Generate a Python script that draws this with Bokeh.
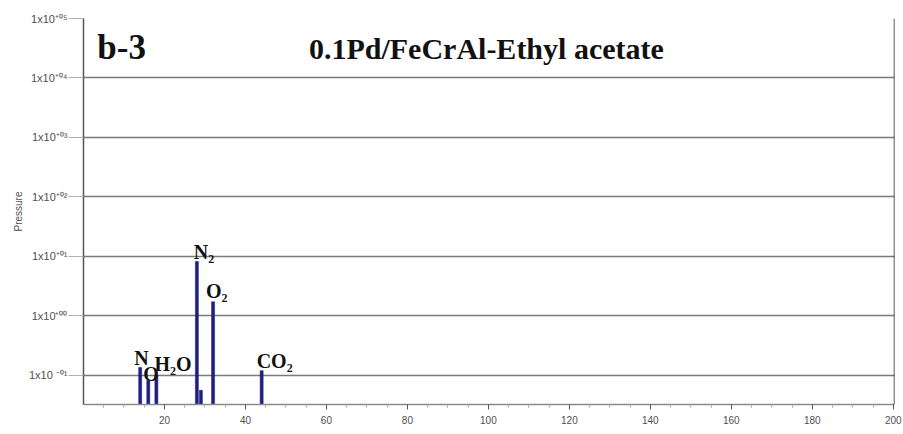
import math
from bokeh.plotting import figure
from bokeh.models import FixedTicker, CustomJSTickFormatter, Label, ColumnDataSource, Range1d
from bokeh.core.properties import value
from bokeh.embed import file_html
from bokeh.resources import INLINE

# ---- data ----
masses = [14, 16, 18, 28, 29, 32, 44]
pressures = [0.136, 0.082, 0.10, 8.2, 0.056, 1.72, 0.12]

label_masses = [14, 16, 18, 28, 32, 44]
label_pressures = [0.136, 0.082, 0.10, 8.2, 1.72, 0.12]
label_texts = ["N", "O", "H\u2082O", "N\u2082", "O\u2082", "CO\u2082"]

x_major_ticks = [20, 40, 60, 80, 100, 120, 140, 160, 180, 200]
x_minor_ticks = [v for v in range(5, 200, 5) if v % 20 != 0]
y_ticks = [1e-1, 1e0, 1e1, 1e2, 1e3, 1e4, 1e5]

title_text = "0.1Pd/FeCrAl-Ethyl acetate"
panel_text = "b-3"
top_text = "Easy View Log(Mass scan)"
x_axis_text = "Mass / Charge (amu)"
y_axis_text = "Pressure"

# ---- style ----
label_dx = [-6, -5, -2, -3, -7, -5]
label_dy = [-9, -6, -11, -10, -11, -10]
bar_color = "#1f1f7f"

y_lo = 10 ** -1.49
y_hi = 1e5

p = figure(width=903, height=434, output_backend="svg", toolbar_location=None,
           x_range=Range1d(0, 200.3), y_range=Range1d(y_lo, y_hi), y_axis_type="log",
           min_border_left=83, min_border_right=9, min_border_top=18, min_border_bottom=30)
p.background_fill_color = "white"
p.border_fill_color = "white"
p.outline_line_color = None

# grid
p.xgrid.visible = False
p.ygrid.ticker = FixedTicker(ticks=y_ticks)
p.ygrid.grid_line_color = "#7a7a7a"
p.ygrid.grid_line_width = 1.5

# axes
xa = p.xaxis[0]
xa.ticker = FixedTicker(ticks=x_major_ticks, minor_ticks=x_minor_ticks)
xa.axis_line_color = "#8a8a8a"
xa.axis_line_width = 1.5
xa.major_tick_line_color = "#555555"
xa.major_tick_out = 5
xa.major_tick_in = 0
xa.minor_tick_line_color = "#aaaaaa"
xa.minor_tick_out = 3
xa.minor_tick_in = 0
xa.major_label_text_font = "Liberation Sans"
xa.major_label_text_font_size = "10px"
xa.major_label_text_color = "#505050"
xa.major_label_standoff = 6

ya = p.yaxis[0]
ya.ticker = FixedTicker(ticks=y_ticks)
ya.formatter = CustomJSTickFormatter(code="""
const e = Math.round(Math.log10(tick));
const s = (e < 0 ? '-' : '+') + String(Math.abs(e)).padStart(2, '0');
const m = {'0':'\u2070','1':'\u00b9','2':'\u00b2','3':'\u00b3','4':'\u2074','5':'\u2075',
           '6':'\u2076','7':'\u2077','8':'\u2078','9':'\u2079','+':'\u207a','-':'\u207b'};
return '1x10' + (e < 0 ? ' ' : '') + s.split('').map(c => m[c]).join('');
""")
ya.axis_line_color = "#555555"
ya.axis_line_width = 1.5
ya.major_tick_line_color = "#b0b0b0"
ya.major_tick_out = 15
ya.major_tick_in = 0
ya.minor_tick_line_color = None
ya.major_label_text_font = "Liberation Sans"
ya.major_label_text_font_size = "11px"
ya.major_label_text_color = "#505050"
ya.major_label_standoff = 1
ya.axis_label = y_axis_text
ya.axis_label_text_font = "Liberation Sans"
ya.axis_label_text_font_size = "10px"
ya.axis_label_text_font_style = "normal"
ya.axis_label_text_color = "#505050"
ya.axis_label_standoff = 2

# bars
src = ColumnDataSource(dict(x=masses, top=pressures))
p.vbar(x="x", top="top", bottom=1e-3, width=0.75, source=src,
       fill_color=bar_color, line_color=bar_color, line_width=0.5)

# right border line
p.segment(x0=[200.3], x1=[200.3], y0=[y_lo], y1=[y_hi], line_color="#222222", line_width=1.5)

# peak labels
lsrc = ColumnDataSource(dict(x=label_masses, y=label_pressures, t=label_texts,
                             dx=label_dx, dy=label_dy))
p.text(x="x", y="y", text="t", x_offset="dx", y_offset="dy", source=lsrc,
       text_font=value("Liberation Serif"), text_font_style="bold",
       text_font_size="20px", text_color="#111111",
       text_align="left", text_baseline="alphabetic")

# title and panel text inside the frame
p.add_layout(Label(x=99.5, y=10 ** 4.50, text=title_text,
                   text_font="Liberation Serif", text_font_style="bold",
                   text_font_size="30px", text_color="#111111",
                   text_align="center", text_baseline="alphabetic"))
p.add_layout(Label(x=3.4, y=10 ** 4.513, text=panel_text,
                   text_font="Liberation Serif", text_font_style="bold",
                   text_font_size="35px", text_color="#111111",
                   text_align="left", text_baseline="alphabetic"))

# faded software texts at top and bottom edges
p.add_layout(Label(x=106, y=10 ** 5.2, text=top_text,
                   text_font="Liberation Sans", text_font_size="9px", text_color="#b4b4b4",
                   text_align="center", text_baseline="middle"))
p.add_layout(Label(x=127, y=10 ** -1.893, text=x_axis_text,
                   text_font="Liberation Sans", text_font_size="9px", text_color="#bdbdbd",
                   text_align="center", text_baseline="middle"))

open("out.html", "w").write(file_html(p, INLINE))
